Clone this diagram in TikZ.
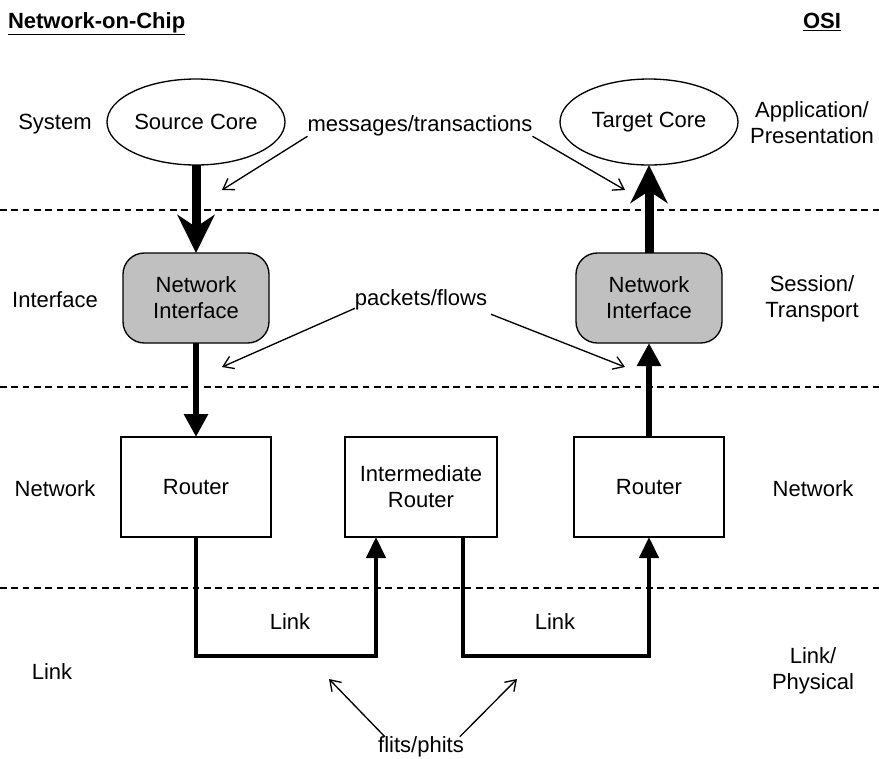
\documentclass[tikz,border=0pt]{standalone}
\usepackage{fontspec}
\setmainfont{Liberation Sans}
\usetikzlibrary{arrows.meta,shapes.geometric}
\definecolor{nocink}{HTML}{000000}
\definecolor{nocgray}{HTML}{C0C0C0}

\begin{document}
\begin{tikzpicture}[
  x=0.75pt,
  y=-0.75pt,
  every node/.style={font=\fontsize{16.5}{19.5}\selectfont, nocink, inner sep=0pt,
    outer sep=0pt, align=center},
  core/.style={draw, ellipse, line width=1pt, minimum width=133.5pt, minimum height=64.5pt},
  niface/.style={draw, fill=nocgray, line width=1pt, rounded corners=16pt,
    minimum width=109.5pt, minimum height=67.5pt},
  router/.style={draw, line width=1pt, minimum width=112.5pt, minimum height=75pt},
  layer/.style={nocink, line width=1pt, dash pattern=on 5pt off 3.5pt},
  corearrow/.style={nocink, line width=6.75pt,
    -{Stealth[length=28.5pt, width=27.75pt, inset=9pt]}},
  niarrow/.style={nocink, line width=4.5pt, -{Triangle[length=17.25pt, width=17.25pt]}},
  link/.style={nocink, line width=3.4pt, -{Triangle[length=15.75pt, width=14.25pt]}},
  note/.style={nocink, line width=1pt, -{Straight Barb[length=7.5pt, width=10pt]}}
]
  \useasboundingbox (0,0) rectangle (879,758);

  % ---- column headings -------------------------------------------------
  \node[anchor=base west] (nochead) at (8,28) {\underline{\textbf{Network-on-Chip}}};
  \node[anchor=base] (osihead) at (822,28) {\underline{\textbf{OSI}}};

  % ---- the layer boundaries --------------------------------------------
  \draw[layer] (0,210) -- (879,210);
  \draw[layer] (0,387) -- (879,387);
  \draw[layer] (0,588) -- (879,588);

  % ---- layer names on both sides ---------------------------------------
  \node (lsys) at (55,124) {System};
  \node (lif) at (55,300) {Interface};
  \node (lnet) at (55,489) {Network};
  \node (llink) at (52,672) {Link};
  \node (rapp) at (812,123) {Application/\\Presentation};
  \node (rses) at (812,299) {Session/\\Transport};
  \node (rnet) at (813,489) {Network};
  \node (rphy) at (813,671) {Link/\\Physical};

  % ---- cores, interfaces and routers -----------------------------------
  \node[core] (src) at (196,122) {Source Core};
  \node[core] (tgt) at (649,122) {Target Core};
  \node[niface] (srcni) at (196,298) {Network\\Interface};
  \node[niface] (tgtni) at (649,298) {Network\\Interface};
  \node[router] (lr) at (196,487) {Router};
  \node[router, minimum width=114pt] (ir) at (421,487) {Intermediate\\Router};
  \node[router] (rr) at (649,487) {Router};

  % ---- the path of the data --------------------------------------------
  \draw[corearrow] (src) -- (srcni);
  \draw[corearrow] (tgtni) -- (tgt);
  \draw[niarrow] (srcni) -- (lr);
  \draw[niarrow] (rr) -- (tgtni);
  \draw[link] (lr.south) -- ++(0,119) -| ([xshift=23.25pt]ir.south west);
  \draw[link] ([xshift=-25.5pt]ir.south east) -- ++(0,119) -| (rr.south);
  \node (linka) at (290,622) {Link};
  \node (linkb) at (555,622) {Link};

  % ---- what travels on each layer --------------------------------------
  \node (msg) at (420,126) {messages/transactions};
  \coordinate (msgl) at (222,190);
  \coordinate (msgr) at (625,190);
  \draw[note] (msg.south west) -- (msgl);
  \draw[note] (msg.south east) -- (msgr);

  \node (pkt) at (421,300) {packets/flows};
  \coordinate (pktl) at (222,367);
  \coordinate (pktr) at (625,367);
  \draw[note] ([yshift=1.5pt]pkt.south west) -- (pktl);
  \draw[note] ([xshift=3pt,yshift=-3pt]pkt.south east) -- (pktr);

  \node (flit) at (421,747) {flits/phits};
  \coordinate (flitl) at (329,679);
  \coordinate (flitr) at (517,679);
  \draw[note] ([xshift=5pt]flit.north west) -- (flitl);
  \draw[note] ([xshift=-3pt]flit.north east) -- (flitr);
\end{tikzpicture}
\end{document}
